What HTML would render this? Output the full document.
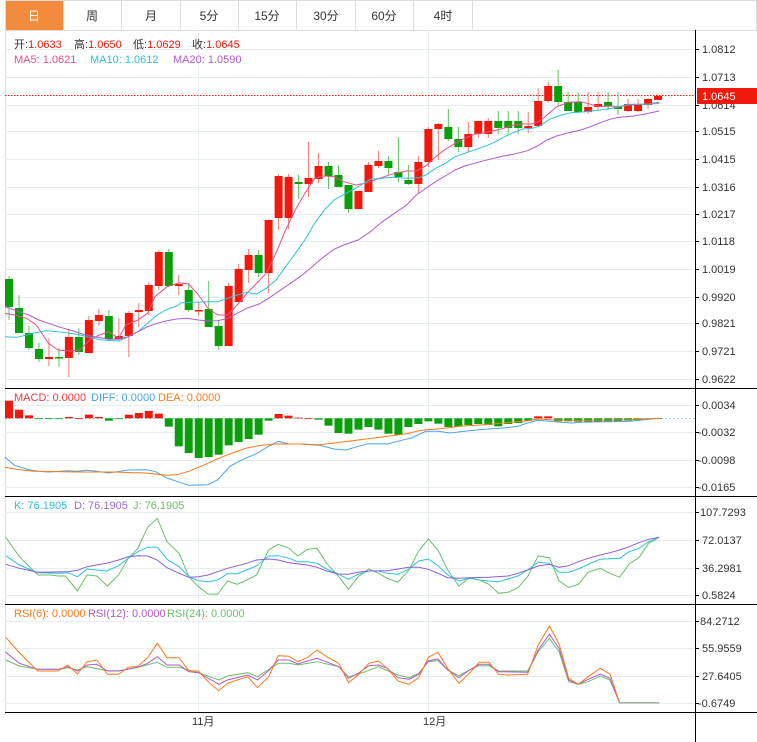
<!DOCTYPE html>
<html><head><meta charset="utf-8"><style>
body{margin:0;width:757px;height:742px;overflow:hidden;background:#fff;font-family:"Liberation Sans","Noto Sans CJK SC",sans-serif;}
svg{position:absolute;left:0;top:0}
.t{font-size:11px;fill:#333}
.tab{font-size:12px;fill:#333;text-anchor:middle}
</style></head><body>
<svg id="s" width="757" height="742" xmlns="http://www.w3.org/2000/svg">
<rect x="0" y="0" width="757" height="742" fill="#fff"/>
<rect x="5.5" y="0.5" width="751" height="30" fill="#fff" stroke="#ddd"/>
<rect x="6" y="1" width="57" height="29" fill="#f28b3c"/>
<g stroke="#ddd"><line x1="63.5" y1="0" x2="63.5" y2="30"/><line x1="121.5" y1="0" x2="121.5" y2="30"/><line x1="180.5" y1="0" x2="180.5" y2="30"/><line x1="238.5" y1="0" x2="238.5" y2="30"/><line x1="296.5" y1="0" x2="296.5" y2="30"/><line x1="355.5" y1="0" x2="355.5" y2="30"/><line x1="413.5" y1="0" x2="413.5" y2="30"/><line x1="472.5" y1="0" x2="472.5" y2="30"/></g>
<text class="tab" x="34" y="20" style="fill:#fff">日</text>
<text class="tab" x="92" y="20">周</text>
<text class="tab" x="151" y="20">月</text>
<text class="tab" x="209" y="20">5分</text>
<text class="tab" x="267" y="20">15分</text>
<text class="tab" x="326" y="20">30分</text>
<text class="tab" x="384" y="20">60分</text>
<text class="tab" x="443" y="20">4时</text>
<line x1="5.5" y1="30" x2="5.5" y2="712" stroke="#ddd"/>
<g id="grid" stroke="#e6edf2" stroke-width="1"></g>
<g id="plot"></g>
<g stroke="#000" stroke-width="1">
<line x1="695.5" y1="30" x2="695.5" y2="742"/>
<line x1="5" y1="388.5" x2="757" y2="388.5"/>
<line x1="5" y1="496.5" x2="757" y2="496.5"/>
<line x1="5" y1="604.5" x2="757" y2="604.5"/>
<line x1="5" y1="712.5" x2="757" y2="712.5"/>
</g>
<g id="ticks" stroke="#000"></g>
<g class="t">
<text class="t" x="702" y="53">1.0812</text>
<text class="t" x="702" y="81">1.0713</text>
<text class="t" x="702" y="109">1.0614</text>
<text class="t" x="702" y="135">1.0515</text>
<text class="t" x="702" y="163">1.0415</text>
<text class="t" x="702" y="191">1.0316</text>
<text class="t" x="702" y="218">1.0217</text>
<text class="t" x="702" y="245">1.0118</text>
<text class="t" x="702" y="273">1.0019</text>
<text class="t" x="702" y="301">0.9920</text>
<text class="t" x="702" y="327">0.9821</text>
<text class="t" x="702" y="355">0.9721</text>
<text class="t" x="702" y="383">0.9622</text>
<text class="t" x="702" y="409">0.0034</text>
<text class="t" x="698" y="436">-0.0032</text>
<text class="t" x="698" y="464">-0.0098</text>
<text class="t" x="698" y="491">-0.0165</text>
<text class="t" x="700" y="516">107.7293</text>
<text class="t" x="702" y="544">72.0137</text>
<text class="t" x="702" y="572">36.2981</text>
<text class="t" x="702" y="599">0.5824</text>
<text class="t" x="700" y="625">84.2712</text>
<text class="t" x="702" y="652">55.9559</text>
<text class="t" x="702" y="680">27.6405</text>
<text class="t" x="698" y="707">-0.6749</text>
<text class="t" x="192" y="725">11月</text>
<text class="t" x="423" y="725">12月</text>
</g>
<rect x="697" y="88" width="60" height="16" fill="#f0190c"/>
<text x="702" y="100" style="font-size:11px;fill:#fff">1.0645</text>
<g style="font-size:11px">
<text x="14" y="48" fill="#333">开:<tspan fill="#f0190c">1.0633</tspan></text>
<text x="74" y="48" fill="#333">高:<tspan fill="#f0190c">1.0650</tspan></text>
<text x="133" y="48" fill="#333">低:<tspan fill="#f0190c">1.0629</tspan></text>
<text x="192" y="48" fill="#333">收:<tspan fill="#f0190c">1.0645</tspan></text>
<text x="14" y="63" fill="#ee4f87">MA5: 1.0621</text>
<text x="90" y="63" fill="#2cc3d8">MA10: 1.0612</text>
<text x="173" y="63" fill="#b05ad0">MA20: 1.0590</text>
<text x="14" y="401" fill="#f03a3a">MACD: 0.0000</text>
<text x="91" y="401" fill="#4aa3ee">DIFF: 0.0000</text>
<text x="158" y="401" fill="#ff7a1a">DEA: 0.0000</text>
<text x="14" y="509" fill="#2cc3d8">K: 76.1905</text>
<text x="74" y="509" fill="#9b6fd0">D: 76.1905</text>
<text x="133" y="509" fill="#6abf6a">J: 76.1905</text>
<text x="14" y="617" fill="#ff7a1a">RSI(6): 0.0000</text>
<text x="88" y="617" fill="#b05ad0">RSI(12): 0.0000</text>
<text x="167" y="617" fill="#6abf6a">RSI(24): 0.0000</text>
</g>
</svg>
<script>
(function(){
var NS="http://www.w3.org/2000/svg";
function el(p,n,a){var e=document.createElementNS(NS,n);for(var k in a)e.setAttribute(k,a[k]);p.appendChild(e);return e;}
var grid=document.getElementById('grid'),plot=document.getElementById('plot'),ticks=document.getElementById('ticks');
[49,77,105,131,159,187,214,241,269,297,323,351,379,405,432,460,487,512,540,568,595,621,648,676,703].forEach(function(y){el(grid,'line',{x1:5,y1:y+.5,x2:695,y2:y+.5});el(ticks,'line',{x1:695,y1:y+.5,x2:699,y2:y+.5});});
[198.5,428.5].forEach(function(x){el(grid,'line',{x1:x,y1:30,x2:x,y2:712});});
el(plot,'line',{x1:5,y1:95.5,x2:695,y2:95.5,stroke:'#f0190c','stroke-dasharray':'1.5,1.5'});
var C=[[279,307,276,320,0],[308,333,295,333,0],[333,348,326,350,0],[349,359,343,362,0],[357,359,338,366,1],[357,358,348,367,0],[337,358,329,377,1],[337,352,328,355,0],[320,353,316,353,1],[315,321,309,326,1],[316,339,310,340,0],[336,339,318,341,1],[313,336,311,357,1],[310,312,303,327,1],[285,311,282,315,1],[252,286,250,290,1],[252,286,249,287,0],[284,286,275,295,1],[290,310,283,312,0],[310,311,302,316,1],[309,327,281,327,0],[326,346,320,350,0],[286,346,283,346,1],[269,302,264,302,1],[255,270,249,283,1],[255,273,250,277,0],[220,273,220,293,1],[176,218,174,230,1],[177,218,174,229,1],[182,184,175,199,0],[178,184,142,197,1],[166,179,153,183,1],[166,176,162,189,0],[175,187,165,187,0],[185,209,185,213,0],[191,209,191,209,1],[165,192,162,192,1],[161,166,151,168,1],[161,168,156,175,0],[172,177,137,182,0],[180,184,165,185,0],[162,184,156,193,1],[129,162,127,167,1],[124,129,123,160,1],[127,139,109,141,0],[139,147,127,152,0],[134,147,122,152,1],[121,134,121,138,1],[121,134,118,138,1],[121,128,111,134,0],[121,128,111,134,0],[121,128,111,134,0],[126,128,112,133,1],[101,126,88,127,1],[86,101,82,103,1],[86,102,70,107,0],[102,111,92,111,0],[102,112,92,112,0],[107,112,92,114,1],[104,107,92,110,1],[102,106,92,110,0],[107,109,92,115,0],[104,111,99,112,1],[104,111,99,112,1],[99,105,98,109,1],[96,100,94,100,1]];
function X(i){return 9+i*9.985;}
C.forEach(function(c,i){var x=X(i),up=c[4];
el(plot,'line',{x1:x,y1:c[2],x2:x,y2:c[3],stroke:up?'#f77a72':'#5cc65c'});
el(plot,'rect',{x:x-4,y:c[0],width:8,height:Math.max(1.5,c[1]-c[0]),fill:up?'#f0190c':'#0b9e0b'});});
function pl(pts,col,fx,fy,oy,w){var s=[];for(var i=0;i<pts.length;i+=2)s.push((pts[i]/fx).toFixed(1)+','+(oy+pts[i+1]/fy).toFixed(1));el(plot,'polyline',{points:s.join(' '),fill:'none',stroke:col,'stroke-width':w||1});}
var F=2.066,V=3.0;
pl([10,760,30,765,55,775,75,795,100,850,120,870,145,873,165,870,185,840,205,825,225,815,245,835,260,795,285,780,305,760,320,710,345,680,370,668,390,672,410,705,430,745,450,765,470,765,490,735,510,700,530,670,550,640,570,580,590,510,610,450,630,400,650,355,670,348,690,350,710,365,735,375,760,368,780,357,800,347,820,338,840,333,860,333,880,318,900,290,920,268,940,250,960,235,980,223,1000,218,1020,212,1040,205,1060,195,1080,192,1100,192,1115,183,1130,165,1150,140,1175,127,1200,125,1220,133,1240,140,1260,138,1280,140,1300,135,1320,133,1340,132,1362,127],'#ee4f87',F,3,60);
pl([10,830,35,832,55,825,75,818,95,812,120,815,145,820,165,825,185,832,210,840,245,843,265,830,285,815,305,790,325,765,345,748,365,738,375,728,400,727,430,725,450,725,470,715,490,705,510,697,530,702,550,685,570,660,590,620,610,580,630,540,650,490,670,450,690,420,715,400,740,380,765,358,790,355,810,352,840,355,865,353,880,345,900,325,920,310,940,290,960,280,980,270,1000,260,1020,248,1040,232,1060,218,1080,207,1100,205,1115,198,1135,178,1160,165,1180,158,1210,155,1240,150,1270,143,1300,133,1340,133,1362,130],'#2cc3d8',F,3,60);
pl([10,740,40,755,60,765,80,780,100,790,120,800,145,810,170,822,195,830,225,838,245,838,265,830,285,815,305,800,325,790,345,782,365,777,385,775,410,780,430,783,450,782,470,775,490,760,510,745,535,732,555,715,580,690,600,670,620,650,645,620,665,595,690,568,710,555,740,540,765,515,790,485,815,460,840,435,860,405,880,385,900,365,920,348,940,330,960,318,980,310,1000,302,1020,295,1040,288,1060,283,1090,272,1110,258,1130,240,1150,228,1175,218,1200,210,1220,200,1240,188,1260,178,1280,172,1310,168,1340,160,1362,153],'#b05ad0',F,3,60);
el(plot,'line',{x1:5,y1:418.5,x2:695,y2:418.5,stroke:'#9fd8ee','stroke-dasharray':'2,2'});
var M=[38,65,82,93,93,91,87,90,80,87,98,91,80,75,69,77,116,175,195,210,207,200,172,162,153,140,98,78,83,89,90,95,113,135,137,125,117,125,137,141,117,108,100,107,117,116,111,108,111,115,108,105,98,85,85,100,100,101,101,101,101,101,98,97,93,91];
M.forEach(function(v,i){var y=388+v/3,z=418.3,x=X(i);var up=y<z;el(plot,'rect',{x:x-4,y:Math.min(y,z),width:8,height:Math.max(0.8,Math.abs(y-z)),fill:up?'#f0190c':'#0b9e0b'});});
pl([10,207,30,232,60,245,80,250,100,252,140,248,160,250,180,247,200,250,225,255,265,246,300,245,320,250,345,270,365,280,390,292,430,290,450,275,475,235,500,215,530,197,555,175,575,160,597,168,620,168,640,170,660,172,690,183,715,186,740,175,762,167,800,168,830,157,850,150,880,130,905,130,930,135,960,130,990,125,1010,123,1040,120,1070,115,1090,105,1110,97,1135,100,1160,103,1180,105,1200,103,1300,100,1362,91],'#4aa3ee',F,3,388);
pl([10,238,40,245,70,250,160,252,230,252,300,255,345,262,365,260,390,250,420,232,450,212,480,195,510,180,540,172,570,168,620,168,660,170,690,165,720,160,760,152,800,145,840,137,870,127,910,122,950,115,1000,110,1040,105,1090,98,1110,93,1135,95,1170,97,1220,97,1300,95,1362,91],'#ff7a1a',F,3,388);
pl([12,127,40,185,78,240,105,240,120,243,135,243,160,288,180,240,200,243,222,273,245,240,265,190,285,160,305,97,325,70,345,140,370,175,390,245,410,275,430,297,450,298,470,258,490,268,510,255,530,240,555,165,575,148,597,160,615,183,635,163,655,160,675,205,700,245,720,283,740,245,762,222,782,235,800,250,822,262,845,225,865,168,885,132,905,165,925,225,948,273,970,248,990,255,1010,268,1030,295,1050,292,1070,278,1090,245,1112,183,1135,188,1155,258,1175,277,1195,268,1215,232,1240,220,1260,235,1280,247,1300,207,1320,188,1340,145,1362,127],'#6abf6a',F,V,495);
pl([12,182,40,210,78,233,120,235,140,233,160,245,180,222,220,228,245,212,265,190,285,170,305,157,325,157,345,193,370,215,390,245,410,257,430,260,450,255,470,236,490,236,530,213,555,183,575,182,597,190,615,200,635,200,655,205,675,222,700,238,720,253,740,238,762,228,782,228,800,235,822,238,845,222,865,198,885,192,905,212,925,240,948,258,970,250,990,255,1010,258,1030,260,1050,252,1070,243,1090,225,1112,202,1135,205,1155,232,1175,232,1195,222,1215,208,1240,193,1280,190,1300,170,1320,160,1340,140,1362,127],'#2cc3d8',F,V,495);
pl([12,208,40,220,78,232,140,230,160,226,180,215,220,205,245,195,265,185,285,182,305,183,325,195,345,218,370,235,390,247,410,245,430,240,450,230,470,220,510,205,530,195,555,192,575,195,597,203,635,210,655,217,675,228,700,237,720,238,740,232,762,228,800,227,822,222,845,217,865,217,885,223,905,235,925,248,948,250,970,248,1010,247,1050,243,1070,235,1090,225,1112,213,1135,208,1155,217,1175,212,1195,200,1215,190,1240,180,1260,173,1280,165,1300,155,1320,143,1340,133,1362,127],'#8e5fd0',F,V,495);
pl([12,495,40,513,78,523,120,523,140,518,160,525,180,515,222,527,245,527,285,517,325,502,345,517,370,517,410,533,452,555,470,543,512,533,532,545,575,505,597,505,615,510,655,500,700,515,720,545,740,538,782,515,822,540,845,548,865,535,885,500,905,497,925,525,948,542,970,525,990,512,1010,512,1030,528,1090,528,1112,470,1135,430,1155,470,1175,560,1195,568,1215,560,1240,543,1260,555,1280,623,1362,623],'#6abf6a',F,V,495);
pl([12,472,40,505,78,523,120,523,140,515,160,528,180,510,200,508,222,528,245,528,285,517,305,505,325,485,345,510,370,510,390,530,410,533,452,568,470,555,512,540,532,555,555,527,575,495,597,495,615,507,635,498,655,490,700,515,720,550,740,535,762,512,782,510,800,520,822,548,845,553,865,538,885,497,905,492,925,525,948,548,970,525,990,508,1010,508,1030,530,1090,532,1112,465,1135,418,1155,460,1175,555,1195,568,1215,553,1240,537,1260,550,1280,623,1362,623],'#b05ad0',F,V,495);
pl([12,427,35,465,55,495,78,528,100,528,120,528,140,510,160,537,180,500,200,495,222,538,245,538,265,517,285,514,305,488,325,445,345,488,370,488,390,527,410,528,430,560,452,587,470,565,490,555,512,545,532,578,555,545,575,482,597,484,615,500,635,488,655,465,675,485,700,505,720,563,740,540,762,505,782,498,800,520,822,558,845,568,865,548,885,487,905,472,925,520,948,565,970,535,990,502,1010,502,1030,538,1050,540,1090,538,1112,450,1135,393,1155,447,1175,550,1195,568,1215,545,1240,520,1260,537,1280,623,1362,623],'#ff7a1a',F,V,495);
pl([1280,623,1362,623],'#a8b0a0',F,V,495,1.5);
})();
</script>
</body></html>
